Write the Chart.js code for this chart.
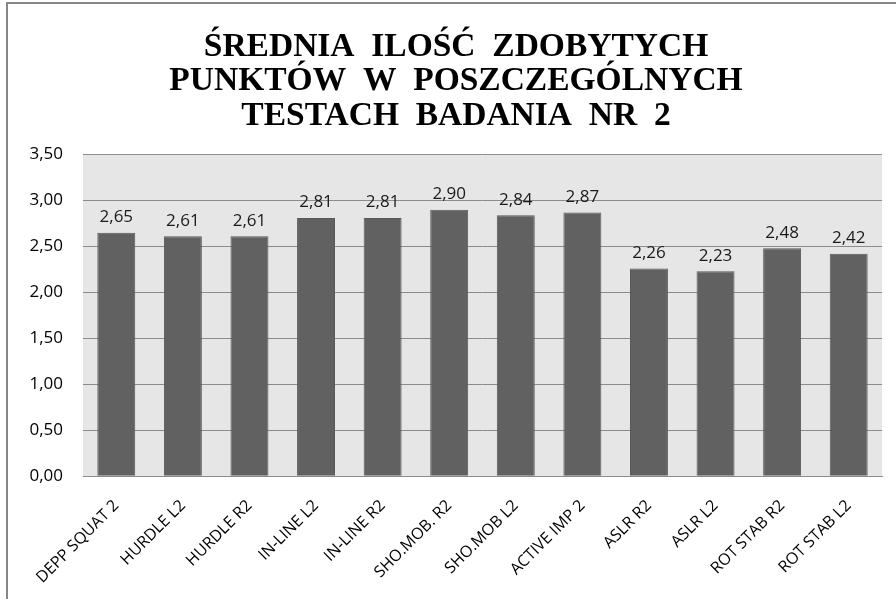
<!DOCTYPE html>
<html>
<head>
<meta charset="utf-8">
<script src="https://cdn.jsdelivr.net/npm/chart.js@4/dist/chart.umd.min.js"></script>
<style>
  html, body { margin: 0; padding: 0; background: #fff; overflow: hidden; }
  #frame {
    position: absolute; left: 6px; top: 2px;
    width: 1000px; height: 1000px;
    border: 2px solid #878787;
  }
  #wrap { position: absolute; left: 0; top: 0; width: 888px; height: 595px; }
</style>
</head>
<body>
<div id="frame"><div id="wrap"><canvas id="chart"></canvas></div></div>
<script>
/* dane wykresu */
const categories = ['DEPP SQUAT 2', 'HURDLE L2', 'HURDLE R2', 'IN-LINE L2', 'IN-LINE R2', 'SHO.MOB. R2',
  'SHO.MOB L2', 'ACTIVE IMP 2', 'ASLR R2', 'ASLR L2', 'ROT STAB R2', 'ROT STAB L2'];
const values = [2.65, 2.61, 2.61, 2.81, 2.81, 2.90, 2.84, 2.87, 2.26, 2.23, 2.48, 2.42];
const titleLines = ['ŚREDNIA  ILOŚĆ  ZDOBYTYCH', 'PUNKTÓW  W  POSZCZEGÓLNYCH', 'TESTACH  BADANIA  NR  2'];
const yMin = 0, yMax = 3.5, yStep = 0.5;

const fmt = v => v.toFixed(2).replace('.', ',');
const labelFont = "'Open Sans', sans-serif";

// tło obszaru wykresu
const plotBg = {
  id: 'plotBg',
  beforeDraw(chart) {
    const { ctx, chartArea: a } = chart;
    ctx.save();
    ctx.fillStyle = '#e6e6e6';
    ctx.fillRect(a.left, a.top, a.right - a.left, a.bottom - a.top);
    ctx.restore();
  }
};

// etykiety wartości nad słupkami
const valueLabels = {
  id: 'valueLabels',
  afterDatasetsDraw(chart) {
    const ctx = chart.ctx;
    const meta = chart.getDatasetMeta(0);
    ctx.save();
    ctx.font = "17px " + labelFont;
    ctx.fillStyle = '#1a1a1a';
    ctx.textAlign = 'center';
    ctx.textBaseline = 'bottom';
    meta.data.forEach((bar, i) => {
      ctx.fillText(fmt(values[i]), bar.x, bar.y - 7);
    });
    ctx.restore();
  }
};

new Chart(document.getElementById('chart'), {
  type: 'bar',
  data: {
    labels: categories,
    datasets: [{
      data: values,
      backgroundColor: '#616161',
      borderColor: '#595959',
      borderWidth: 1,
      categoryPercentage: 1,
      barPercentage: 0.57
    }]
  },
  options: {
    responsive: true,
    maintainAspectRatio: false,
    animation: false,
    layout: { padding: { left: 22, right: 14, top: 0, bottom: 0 } },
    plugins: {
      legend: { display: false },
      tooltip: { enabled: false },
      title: {
        display: true,
        text: titleLines,
        color: '#000',
        font: { family: "'Liberation Serif', serif", size: 33.5, weight: 'bold', lineHeight: 1.03 },
        padding: { top: 26, bottom: 21 }
      }
    },
    scales: {
      x: {
        grid: { display: false, drawTicks: false },
        border: { display: true, color: '#8c8c8c' },
        ticks: {
          color: '#000',
          font: { family: labelFont, size: 16 },
          maxRotation: 45, minRotation: 45,
          autoSkip: false,
          padding: 20
        },
        // etykiety po skosie mogą wychodzić w lewo poza obszar
        afterFit: s => { s.paddingLeft = 0; s.height -= 8; }
      },
      y: {
        min: yMin, max: yMax,
        grid: { color: '#8c8c8c', drawTicks: false },
        border: { display: false },
        ticks: {
          stepSize: yStep,
          color: '#000',
          font: { family: labelFont, size: 17 },
          padding: 20,
          callback: v => fmt(v)
        },
        afterFit: s => { s.width = 53; }
      }
    }
  },
  plugins: [plotBg, valueLabels]
});
</script>
</body>
</html>
